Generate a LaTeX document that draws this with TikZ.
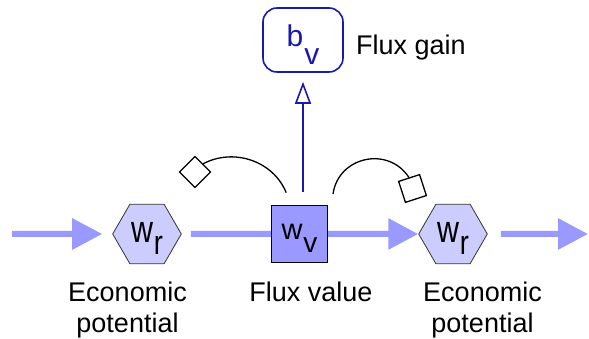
\documentclass[tikz,border=0pt]{standalone}
\usepackage{fontspec}
\setmainfont{Liberation Sans}
\usetikzlibrary{arrows.meta,shapes.geometric}

\definecolor{flow}{RGB}{153,153,255}
\definecolor{hexfill}{RGB}{204,204,255}
\definecolor{gainblue}{RGB}{25,25,175}

\newcommand\fs[1]{\fontsize{#1}{#1}\selectfont}
% letter with a lowered index: #1 letter, #2 size, #3 index, #4 size, #5 drop
\newcommand\subtext[5]{{\fs{#2}#1}\kern1pt\raisebox{-#5}{\fs{#4}#3}}

\begin{document}
\begin{tikzpicture}[x=1pt,y=1pt,
  flowline/.style={draw=flow, line width=6pt},
  flowarrow/.style={flowline, -{Triangle[length=30pt,width=30pt]}},
  pool/.style={regular polygon, regular polygon sides=6, minimum size=67pt,
    inner sep=0pt, draw=black!80, line width=0.8pt, fill=hexfill,
    text height=30pt, text depth=12pt},
  fluxbox/.style={rectangle, minimum width=56pt, minimum height=57pt,
    inner sep=0pt, draw=black, line width=1pt, fill=flow,
    text height=24pt, text depth=12pt},
  gainbox/.style={rectangle, rounded corners=14pt, minimum width=80pt,
    minimum height=64pt, inner sep=0pt, draw=gainblue, line width=1.6pt,
    fill=white, text=gainblue, text height=24pt, text depth=10pt},
  caption/.style={align=center, inner sep=0pt,
    font=\fontsize{27}{31.5}\selectfont},
  gainarrow/.style={draw=gainblue, line width=1.6pt,
    -{Triangle[open, length=22pt, width=16pt, line width=1.6pt]}},
  modline/.style={draw=black, line width=1.3pt},
  modcap/.style={rectangle, draw=black, line width=1.3pt, fill=white,
    minimum size=22pt, inner sep=0pt}
]
\useasboundingbox (0,0) rectangle (589,339);

% pools and the flux between them
\node[pool] (hexL) at (147,105)
  {\scalebox{0.8}[1]{\subtext{w}{38}{r}{34}{12pt}}};
\node[fluxbox] (wv) at (299.5,105)
  {\subtext{w}{29}{v}{28}{13pt}};
\node[pool] (hexR) at (453,105)
  {\scalebox{0.8}[1]{\subtext{w}{38}{r}{34}{12pt}}};

% gain node
\node[gainbox] (gain) at (303,299)
  {\subtext{b}{30}{v}{30}{18pt}};
\node[anchor=base west, inner sep=0pt, font=\fs{27}] (gainlbl) at (356,284) {Flux gain};

% captions
\node[caption, anchor=base] (capL) at (127.5,6) {Economic\\potential};
\node[caption, anchor=base] (capM) at (311,37) {Flux value};
\node[caption, anchor=base] (capR) at (482.5,6) {Economic\\potential};

% flow arrows
\coordinate (in0) at (12,105);
\coordinate (out0) at (588,105);
\draw[flowarrow, shorten >=10pt] (in0) -- (hexL);
\draw[flowline, shorten <=9pt] (hexL) -- (wv);
\draw[flowarrow] (wv) -- (hexR);
\draw[flowarrow, shorten <=13pt] (hexR) -- (out0);

% flux value drives the gain
\coordinate (gs) at (303,147);
\draw[gainarrow, shorten >=9pt] (gs) -- (gain);

% modifier arcs with their end caps
\node[modcap, rotate=45] (m1) at (195,167) {};
\node[modcap, rotate=18] (m2) at (412.5,150.5) {};
\coordinate (ls) at (286.2,146.3);
\coordinate (rs) at (333,145);
\draw[modline] (ls) to[out=112, in=28] (m1.east);
\draw[modline] (rs) to[out=82, in=123, looseness=1.25] (m2.north);
\end{tikzpicture}
\end{document}
